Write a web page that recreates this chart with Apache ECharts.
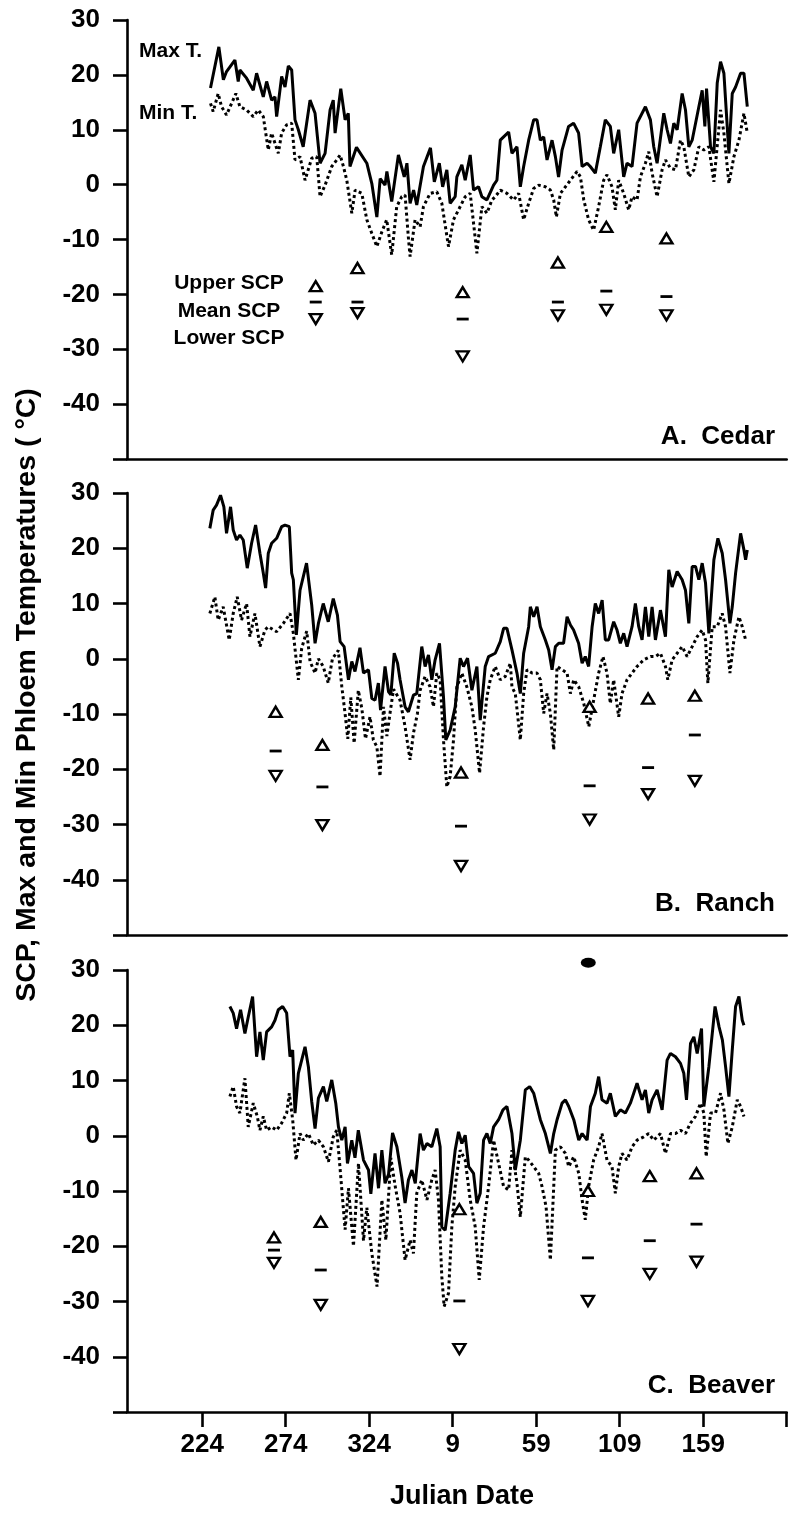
<!DOCTYPE html>
<html><head><meta charset="utf-8">
<script src="https://cdn.jsdelivr.net/npm/echarts@6/dist/echarts.min.js"></script>
<style>html,body{margin:0;padding:0;background:#fff}#c{width:796px;height:1524px}</style>
</head><body><div id="c"></div>
<script>
// Julian dates counted continuously (days > 365 belong to the next year)
const cedarMax = [[229,17.6],[234,25.1],[236.7,19.1],[238.6,20.6],[243.6,22.7],[245.6,18.8],[246.6,20.9],[250.6,19.4],[254.6,17.2],[256.6,20.3],[260.6,16],[262.6,18.8],[265.6,15.4],[267.6,16],[268.6,12.4],[271.6,19.7],[273.6,17.8],[275.6,21.6],[277.6,20.9],[279.6,11.8],[281.6,10],[284.5,6.9],[288.6,15.4],[291.6,13],[294.6,3.9],[297.6,5.7],[300.6,13.6],[302.5,15.4],[303.6,9.4],[307,17.5],[309.6,11.8],[311.5,13],[312.5,3.3],[316.4,6.8],[322.6,3.9],[325.6,0.2],[328.6,-5.9],[330.6,1.1],[333.5,-0.1],[334.6,2.4],[337.5,-3.1],[341.5,5.4],[345,1.4],[346.6,3.9],[348.5,-3.4],[350.6,-1],[352.5,-3.7],[356.5,3.3],[360.7,6.7],[363,0.5],[366,3.9],[368,-0.4],[370.5,2.7],[372.5,-3.4],[375.5,-2.2],[376.5,1.4],[379.5,3.6],[381.5,0.8],[384.5,5.4],[386.5,-1],[389.5,-0.4],[391.5,-2.2],[394.5,-2.8],[398.5,-0.1],[400.5,0.8],[402.5,8.1],[404.5,8.7],[407.5,9.6],[409.5,5.7],[412.5,6.9],[414.5,-0.4],[416.5,3.3],[419.5,8.1],[422.5,11.8],[424.5,11.8],[426.5,8.1],[428.5,8.7],[430.5,4.5],[433.5,8.1],[435.5,5.1],[437.4,1.4],[439.5,6.3],[443.4,10.6],[446.4,11.2],[449.4,9.4],[451.5,3.3],[454.5,3.9],[456.4,3.3],[459.4,2.1],[462.4,6.9],[465.4,11.8],[468.4,10.6],[470.4,5.7],[473.4,10],[476.4,1.4],[478.4,3.9],[481.4,3.3],[484.4,11.2],[489.4,14.2],[492.4,11.8],[494.4,6.9],[496.4,3.9],[500.4,13],[502.4,10],[504.4,7.5],[506.4,11.2],[508.4,10],[511.4,16.6],[513.4,13.6],[515.4,6.9],[517.4,8.1],[521.4,14.2],[523.4,17.2],[525,10.6],[526,17.5],[528.4,6.9],[530.4,5.7],[532.4,18.5],[534.4,22.4],[536.4,20.3],[539.4,5.7],[541.4,16.6],[543.4,17.8],[546.4,20.3],[548.4,20.3],[550.4,14.2]];
const cedarMin = [[229,14.8],[230.6,13.3],[233.6,16.6],[235.6,14.2],[238.6,12.7],[244.2,16.6],[246.6,14.2],[250.6,13.6],[254.6,12.4],[257.6,13.6],[260.6,12.4],[263.6,6.3],[265.6,9.4],[269.6,5.7],[271.6,9.4],[274.6,10.9],[277.6,11.2],[279.6,4.5],[282.6,5.1],[285.6,0.8],[289.6,4.8],[292.6,5.1],[294.6,-2.2],[297.6,-0.1],[301.6,3.3],[304.6,4.5],[306.6,5.4],[308.6,3.3],[310.6,0.8],[313.6,-5.2],[315.6,-1],[319.6,-1.6],[322.6,-6.4],[325.6,-8.9],[328.6,-11.3],[331.6,-8.6],[334.5,-6.4],[337.5,-12.8],[340.5,-4],[343.5,-2.2],[345.5,-1.9],[347.6,-10.1],[348.5,-13.1],[351.5,-6.4],[354.5,-7.7],[356.5,-4],[360.5,-1.6],[364.5,-1.3],[367.5,-3.4],[371.5,-11.3],[374.5,-6.4],[377.5,-4.6],[381.5,-2.2],[384.5,-1.6],[388.5,-12.5],[391.5,-4],[394.5,-5.2],[397.5,-2.8],[399.5,-2.2],[402.5,-1],[406.5,-1.6],[410.5,-2.8],[413.5,-1.6],[416.5,-6.4],[419.5,-3.4],[422.5,-0.7],[425.5,-0.1],[429.5,-0.4],[432.5,-1],[434.5,-2.8],[436.1,-5.9],[438.5,-1.6],[441.5,-0.4],[444.5,0.8],[448.5,2.4],[450.5,1.4],[452.5,-2.8],[455.4,-6.4],[458.4,-8.3],[461.4,-4],[464.4,0.8],[466.4,1.8],[469.4,-0.4],[471.4,-4.6],[473.4,0.8],[476.4,-1.6],[479.4,-4.6],[481.4,-2.2],[484.4,-2.8],[486.4,1.4],[489.4,3.9],[491.4,6],[493.4,2.1],[496.4,-2.2],[499.4,2.7],[501.4,4.5],[504.4,3],[507.4,2.7],[510.4,8.1],[512.4,6.9],[515.4,1.4],[518.4,2.7],[521.4,6.9],[524.4,6.3],[527.4,6.9],[530.4,0.5],[534.4,13.6],[536.4,9.4],[539.4,0.2],[542.4,5.1],[545.4,8.1],[548.4,13],[550.4,9.4]];
const ranchMax = [[228.6,23.6],[230.6,26.9],[232.6,27.8],[235,29.6],[237,27.5],[238.6,22.7],[241,27.5],[242.6,23.3],[244.6,21.5],[246.6,22.4],[248.6,21.5],[251,16.4],[253.6,20.9],[256,24.2],[258.6,19.1],[260.6,15.5],[262,12.8],[263.6,19.1],[265.6,20.9],[268.6,21.8],[271.6,23.9],[273.6,24.2],[276.2,23.9],[277.6,15.5],[278.6,14.3],[280.4,4.3],[282.6,12.4],[286.5,17.3],[289.6,9.7],[291.6,2.8],[293.6,6.4],[296.5,10],[299.5,6.7],[302.5,10.9],[305,7.9],[306.6,3.1],[309,2.2],[311.6,-3.8],[313.6,-0.5],[315.5,-2.3],[318.5,2],[320.6,-2.6],[323.6,-2],[325.6,-7.2],[327.5,-7.5],[329.5,-4.4],[330.8,-9.3],[333.5,-1.4],[335.6,-6],[337,-6.5],[339,1],[341,-0.8],[342.5,-3.8],[345.5,-8.7],[347.5,-9.6],[350.5,-6.6],[352.5,-6.3],[355.5,2.2],[357.5,-1.4],[359.5,0.7],[361.5,-3.8],[363.5,-0.2],[366.1,2.8],[368.5,-6.9],[369.9,-14.7],[372.5,-12.9],[375.5,-8.7],[378.5,0.1],[380.5,-1.4],[382.9,0.1],[385.5,-5.7],[388.5,-1.4],[390.5,-11.1],[393.5,-1.4],[395.5,0.4],[399.5,1],[402.5,3.1],[404.5,5.5],[406.5,5.5],[409.5,1.6],[412.5,-2.6],[414.5,-6.3],[416.5,1],[419.5,5.8],[420.5,9.4],[422.5,7.6],[424.5,9.4],[426.5,5.8],[429.5,3.4],[431.5,1.6],[433.5,-2],[435.5,2.2],[437.5,2.8],[440.4,2.8],[442.5,7.6],[444.5,6.1],[446.4,5.2],[449.4,2.8],[451.5,-0.8],[453.4,0.4],[455.4,-1.4],[457.5,5.8],[459.4,10],[461.4,8.2],[463.5,10.6],[465.4,3.4],[467.4,3.4],[470.4,6.7],[472.4,5.2],[474.4,2.8],[476.4,4.6],[478.4,2.2],[481.4,5.8],[483.4,10],[485.4,5.8],[487.4,3.4],[489.4,9.4],[491.4,4],[493.4,9.4],[495.4,3.4],[498.4,8.8],[501.4,4],[503.4,16.1],[505.4,13],[508.4,15.8],[511.4,14.3],[513.4,12.4],[515.4,6.4],[517.4,16.7],[519.4,16.7],[521.4,14.3],[523.4,17.3],[525.4,13.7],[527.4,4.6],[530.4,17.9],[532.8,21.8],[535.4,19.1],[537.4,14.3],[540,6.4],[541.4,9.4],[543.4,15.5],[546.4,22.7],[548.4,19.7],[549.4,17.9],[550.4,19.7]];
const ranchMin = [[228.6,8.2],[231.6,11.2],[233.6,7],[236.6,9.4],[240.2,3.4],[242.6,8.2],[245,11.2],[247.6,7],[250.6,10],[252.6,4],[255.6,8.2],[258.6,2.2],[261.6,5.2],[263.6,5.8],[268.6,4.9],[272.6,6.4],[276.6,8.2],[278.6,4.6],[281.6,-3.8],[283.6,1.9],[286.6,5],[288.6,-0.5],[291.6,-2.6],[293.6,0],[296.5,-1.4],[299.5,-4.4],[302,0],[305.5,1.5],[307.6,-5],[309.6,-10],[311.2,-14.5],[313,-7],[315,-15.3],[317.5,-5.7],[319.6,-9],[321.8,-14.5],[324.5,-10.5],[326.5,-14.7],[328.6,-15.9],[330.5,-21.3],[332.6,-8.7],[334.6,-14],[336.6,-9.6],[338.6,-5.5],[341.5,-7],[342.5,-7.5],[345.5,-12.3],[348.5,-18.3],[350.5,-13.5],[352.9,-9.9],[354.5,-5.7],[357.5,-3.2],[360.5,-5.1],[362.5,-8.7],[364.5,-2.6],[366.5,-3.8],[368.5,-14.7],[370.5,-23.2],[372.5,-21.3],[374.5,-14.7],[376.5,-5.1],[379.5,-2.6],[382.5,-5.1],[385.5,-8.7],[387.5,-12.9],[390.1,-20.7],[392.5,-12.3],[394.5,-6.9],[396.5,-3.8],[399.5,-1.4],[402.5,-3.8],[405.5,-3.2],[408.5,-0.8],[409.5,-5.1],[411.5,-6.3],[414.5,-14.7],[416.5,-6.3],[418.5,-2],[421.5,-2.6],[424.5,-2.6],[426.5,-3.8],[428.5,-9.9],[430.5,-6.3],[432.5,-9.9],[434.5,-16.5],[436.5,-1.4],[439.5,-2],[442.5,-2.6],[444.5,-6.3],[446.5,-3.8],[449.5,-5.1],[452.5,-8.1],[455.5,-12.3],[458.4,-7.5],[461.4,-2.6],[464,0.4],[466.4,-2.6],[468.4,-8.1],[470.4,-3.8],[473.4,-10.5],[475.4,-6.3],[478.4,-3.8],[481.4,-2.6],[484.4,-1.4],[488.4,-0.2],[492.5,0.4],[495.4,0.4],[498.4,1],[501.4,-1.4],[502.8,-3.8],[505.4,-0.2],[508.4,1],[511.4,2.2],[514.4,0.4],[517.4,2.2],[520.4,4],[523.4,5.2],[525.4,3.4],[526.8,-4.4],[529.4,5.8],[532.4,5.8],[535.4,8.2],[537.4,5.8],[540,-2.6],[542.4,3.4],[545.4,7.6],[547.4,5.8],[549.4,3.4],[550.4,3.4]];
const beaverMax = [[240.6,23.4],[242.6,22.2],[244.6,19.4],[247,22.8],[249.6,18.5],[251.6,21.5],[254.2,25.2],[256.6,14.3],[258.6,18.8],[260.6,13.7],[262.6,18.8],[265.6,19.7],[267.6,20.9],[269.6,22.8],[272.2,23.4],[274.6,22.2],[276.6,14.3],[278.2,15.5],[279.6,4.1],[281.6,11.3],[285.6,16.1],[287.6,12.5],[289.6,6.2],[291.6,1.3],[293.6,6.8],[296.6,8.9],[298.6,6.2],[301.6,10.1],[304,5.9],[305.6,1.6],[307.6,-0.8],[309.6,1.6],[311,-5],[313.6,-0.8],[315.5,-4],[317.5,1],[320.6,-4.4],[323.6,-6.2],[325,-10.5],[327.5,-3.2],[329.6,-9.5],[331.6,-2.6],[333.5,-8.6],[335.6,-7],[338,0.5],[340.6,-2],[343.5,-7.4],[345.5,-12.2],[347.5,-8],[349.6,-6.2],[351.6,-8.6],[354.5,0.4],[356.5,-2.6],[358.6,-1.4],[361.5,-2],[364.5,1.3],[366.5,-2],[367.5,-16.5],[369.5,-17.1],[372.5,-10.4],[375.5,-2.6],[377.5,0.7],[379.5,-1.4],[381.5,0.1],[383.6,-5.6],[386.5,-6.8],[388.5,-12.2],[390.5,-10.4],[392.5,-0.8],[394.5,0.4],[396.5,-1.4],[398.5,1.6],[401.5,2.9],[404.1,4.7],[406.5,5.3],[409.5,0.4],[411.5,-6.2],[414.5,-0.8],[417.5,8.3],[420.1,8.9],[422.5,7.7],[424.5,5.3],[426.5,2.9],[429.5,0.4],[432.5,-3.2],[434.5,0.4],[436.5,2.9],[439.5,5.9],[441.5,6.5],[443.5,5.3],[446.5,2.9],[449.5,-0.8],[451.5,0.4],[454.5,-0.8],[456.5,5.3],[459.4,7.7],[461.4,10.7],[463.4,6.5],[466.4,5.9],[468.4,7.7],[471.4,3.5],[474.4,4.7],[477.4,4.1],[480.4,5.9],[482.4,7.7],[484.4,9.5],[487.4,6.5],[489.4,8.3],[491.4,4.1],[493.4,6.5],[496.4,8.3],[499.4,4.7],[502.4,13.7],[504.4,14.9],[507.4,14.3],[510.4,13.1],[512.4,11.3],[514,6.5],[516.4,16.7],[518.4,17.9],[520.4,14.9],[523,19.4],[524.4,5.3],[527.4,12.5],[531.1,23.4],[533.5,19.7],[535.5,17.3],[537.4,12.5],[539.4,7.1],[541.4,15.5],[543.4,23.4],[545.4,25.2],[547.4,20.9],[548.4,20]];
const beaverMin = [[240.6,7.1],[242.6,8.9],[244.6,5.3],[246.6,4.1],[249.6,10.4],[251.6,1.6],[254.6,5.9],[257,3.5],[258.6,1],[260.6,3.5],[262.6,1],[265.6,1.6],[268.6,1],[271.6,2.3],[274.6,4.1],[276.2,7.7],[278.2,2.9],[280.2,-4.4],[282.6,0.4],[284.6,-0.8],[287.6,0.4],[290.6,-1.7],[293.6,-0.8],[296.6,-2],[299.6,-4.7],[302.5,-0.2],[304.6,1],[306.6,-6],[309.6,-17],[311.6,-9.5],[314.6,-20],[317.6,-5],[320.6,-19],[322.6,-13],[325.6,-21.3],[328.7,-27.3],[331.6,-11.6],[334,-18.9],[337,-4],[339.5,-9],[342.5,-14],[345.5,-22.5],[348.5,-18.9],[350.5,-21.3],[352.5,-10.4],[355.5,-8],[358.6,-11.6],[361.5,-8],[363.5,-6.2],[365.5,-11.6],[367.5,-25.5],[368.9,-30.9],[371.5,-28.5],[373.5,-16.5],[375.5,-9.2],[378.5,-2.6],[381.5,-4.4],[384.5,-11.6],[387.5,-16.5],[389.9,-26.1],[392.5,-16.5],[395.5,-9.2],[398.5,-0.8],[401.5,-5],[404.5,-9.2],[407.5,-9.8],[409.5,-2.6],[412.5,-8.6],[414.5,-14.7],[417.5,-3.8],[419.5,-4.4],[422.5,-5.6],[425.5,-6.8],[427.5,-9.2],[429.9,-12.8],[432.5,-22.5],[435.5,-2.6],[438.5,-2],[441.5,-3.2],[443.5,-5.6],[446.5,-3.8],[449.5,-6.8],[451.5,-11.6],[453.4,-15.2],[455.4,-9.2],[458.4,-4.4],[461.4,-2],[463.4,0.4],[466.4,-4.4],[469.4,-5.6],[471.4,-10.4],[473.4,-5.6],[475.4,-3.2],[478.4,-4.4],[481.4,-2],[484.4,-0.8],[488.4,-0.2],[491.4,0.4],[494.4,-0.8],[498.4,0.4],[501.4,-3.2],[504.4,0.4],[507.4,0.4],[510.4,1],[513.4,0.4],[516.4,2.3],[519.4,3.5],[522.4,5.9],[524.4,4.1],[525.8,-3.8],[528.4,4.1],[531.4,4.1],[534.4,7.7],[536.4,4.7],[538.8,-1.4],[541.4,1.6],[544.4,6.5],[546.4,5.3],[548.4,3.5]];

const cedarScpDays = [292, 317, 380, 437, 466, 502];
const cedarUpper = [-18.5, -15.2, -19.6, -14.2, -7.7, -9.8];
const cedarMean = [-21.4, -21.4, -24.5, -21.4, -19.4, -20.4];
const cedarLower = [-24.5, -23.4, -31.3, -23.8, -22.8, -23.8];
const ranchScpDays = [268, 296, 379, 456, 491, 519];
const ranchUpper = [-9.6, -15.6, -20.6, -8.7, -7.2, -6.7];
const ranchMean = [-16.7, -23.2, -30.3, -23, -19.7, -13.8];
const ranchLower = [-21.2, -30.1, -37.5, -29.1, -24.5, -22.1];
const beaverScpDays = [267, 295, 378, 455, 492, 520];
const beaverUpper = [-18.4, -15.6, -13.3, -10, -7.3, -6.8];
const beaverMean = [-20.7, -24.3, -29.9, -22.1, -19, -16];
const beaverLower = [-23, -30.6, -38.6, -29.9, -25, -22.8];
const beaverSpot = [[455.2, 31.3]];

const xTickValues = [224, 274, 324, 374, 424, 474, 524, 574];
const xLabelValues = [224, 274, 324, 374, 424, 474, 524];
const panelNames = ['A.  Cedar', 'B.  Ranch', 'C.  Beaver'];

const FONT = '"Liberation Sans", Arial, sans-serif';
const chart = echarts.init(document.getElementById('c'));
const layout = [
  {top: 20, height: 439, labelY: 437},
  {top: 493, height: 442, labelY: 904},
  {top: 970, height: 442, labelY: 1386}
];
const panelData = [
  {max: cedarMax, min: cedarMin, days: cedarScpDays, up: cedarUpper, mean: cedarMean, low: cedarLower},
  {max: ranchMax, min: ranchMin, days: ranchScpDays, up: ranchUpper, mean: ranchMean, low: ranchLower},
  {max: beaverMax, min: beaverMin, days: beaverScpDays, up: beaverUpper, mean: beaverMean, low: beaverLower}
];
const zip = (d, v) => d.map((x, i) => [x, v[i]]);

const grids = [], xAxes = [], yAxes = [], series = [];
layout.forEach((L, i) => {
  grids.push({left: 127, right: 9.3, top: L.top, height: L.height});
  const last = i === 2;
  xAxes.push({
    type: 'value', gridIndex: i, min: 179, max: 574,
    axisLine: {show: true, onZero: false, lineStyle: {color: '#000', width: 2.6}},
    axisTick: {show: last, customValues: xTickValues, length: 15, lineStyle: {color: '#000', width: 2.6}},
    axisLabel: {show: last, customValues: xLabelValues, margin: 20,
      formatter: v => String(v > 365 ? v - 365 : v),
      fontFamily: FONT, fontWeight: 'bold', fontSize: 26, color: '#000'},
    splitLine: {show: false}
  });
  yAxes.push({
    type: 'value', gridIndex: i, min: -50, max: 30, interval: 10,
    axisLine: {show: true, lineStyle: {color: '#000', width: 2.6}},
    axisTick: {show: true, length: 14, lineStyle: {color: '#000', width: 2.6}},
    axisLabel: {margin: 27, formatter: v => v === -50 ? '' : String(v),
      fontFamily: FONT, fontWeight: 'bold', fontSize: 26, color: '#000'},
    splitLine: {show: false}
  });
  const P = panelData[i];
  series.push({type: 'line', name: 'Max T.', xAxisIndex: i, yAxisIndex: i, data: P.max, showSymbol: false, symbol: 'none',
    lineStyle: {color: '#000', width: 3}, z: 3});
  series.push({type: 'line', name: 'Min T.', xAxisIndex: i, yAxisIndex: i, data: P.min, showSymbol: false, symbol: 'none',
    lineStyle: {color: '#000', width: 3, type: [3, 3]}, z: 2});
  series.push({type: 'scatter', name: 'Upper SCP', xAxisIndex: i, yAxisIndex: i, data: zip(P.days, P.up),
    symbol: 'triangle', symbolSize: [12, 10], itemStyle: {color: '#fff', borderColor: '#000', borderWidth: 2.4, opacity: 1}, z: 5});
  series.push({type: 'scatter', name: 'Mean SCP', xAxisIndex: i, yAxisIndex: i, data: zip(P.days, P.mean),
    symbol: 'rect', symbolSize: [12, 2.8], itemStyle: {color: '#000', opacity: 1}, z: 5});
  series.push({type: 'scatter', name: 'Lower SCP', xAxisIndex: i, yAxisIndex: i, data: zip(P.days, P.low),
    symbol: 'triangle', symbolRotate: 180, symbolSize: [12, 10], itemStyle: {color: '#fff', borderColor: '#000', borderWidth: 2.4, opacity: 1}, z: 5});
});
series.push({type: 'scatter', xAxisIndex: 2, yAxisIndex: 2, data: beaverSpot, clip: false,
  symbol: 'circle', symbolSize: [15, 10], itemStyle: {color: '#000', opacity: 1}, z: 5});

const txt = (text, x, y, size, align, extra) => Object.assign({
  type: 'text', x: x, y: y,
  style: {text: text, x: 0, y: 0, fill: '#000', font: 'bold ' + size + 'px ' + FONT,
    textAlign: align, textVerticalAlign: 'middle'}
}, extra || {});

const graphic = [
  txt('Max T.', 139, 51, 21, 'left'),
  txt('Min T.', 139, 113, 21, 'left'),
  txt('Upper SCP', 229, 283, 21, 'center'),
  txt('Mean SCP', 229, 311, 21, 'center'),
  txt('Lower SCP', 229, 338, 21, 'center'),
  txt('Julian Date', 462, 1497, 27, 'center'),
  txt('SCP, Max and Min Phloem Temperatures ( °C)', 27, 695, 28.5, 'center', {rotation: Math.PI / 2})
];
layout.forEach((L, i) => graphic.push(txt(panelNames[i], 775, L.labelY, 26, 'right')));

chart.setOption({
  animation: false,
  backgroundColor: '#fff',
  grid: grids, xAxis: xAxes, yAxis: yAxes, series: series, graphic: graphic
});
</script></body></html>
